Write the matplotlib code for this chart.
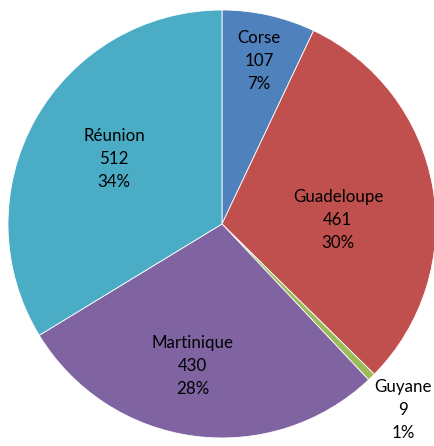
import matplotlib
matplotlib.use('Agg')
import matplotlib.pyplot as plt

# Dane
regions = ['Corse', 'Guadeloupe', 'Guyane', 'Martinique', 'Réunion']
counts = [107, 461, 9, 430, 512]
percents = ['7%', '30%', '1%', '28%', '34%']
colors = ['#4F81BD', '#C0504D', '#9BBB59', '#8064A2', '#4BACC6']

# Pozycje etykiet (współrzędne osi)
label_pos = [(0.173, 0.762), (0.542, 0.019), (0.846, -0.869), (-0.136, -0.664), (-0.505, 0.304)]

plt.rcParams['font.family'] = ['Lato', 'DejaVu Sans']

fig = plt.figure(figsize=(4.35, 4.46), dpi=100)
ax = fig.add_axes([0.5103 - 0.492, 0.4978 - 0.4798, 0.984, 0.9596])

ax.pie(counts, colors=colors, startangle=90, counterclock=False, radius=1,
       wedgeprops=dict(edgecolor='white', linewidth=0.6))

for name, c, p, (x, y) in zip(regions, counts, percents, label_pos):
    ax.text(x, y, f'{name}\n{c}\n{p}', ha='center', va='center',
            fontsize=12.2, linespacing=1.55, color='black')

ax.set_xlim(-1, 1)
ax.set_ylim(-1, 1)
ax.axis('off')

fig.savefig('out.png', dpi=100)
